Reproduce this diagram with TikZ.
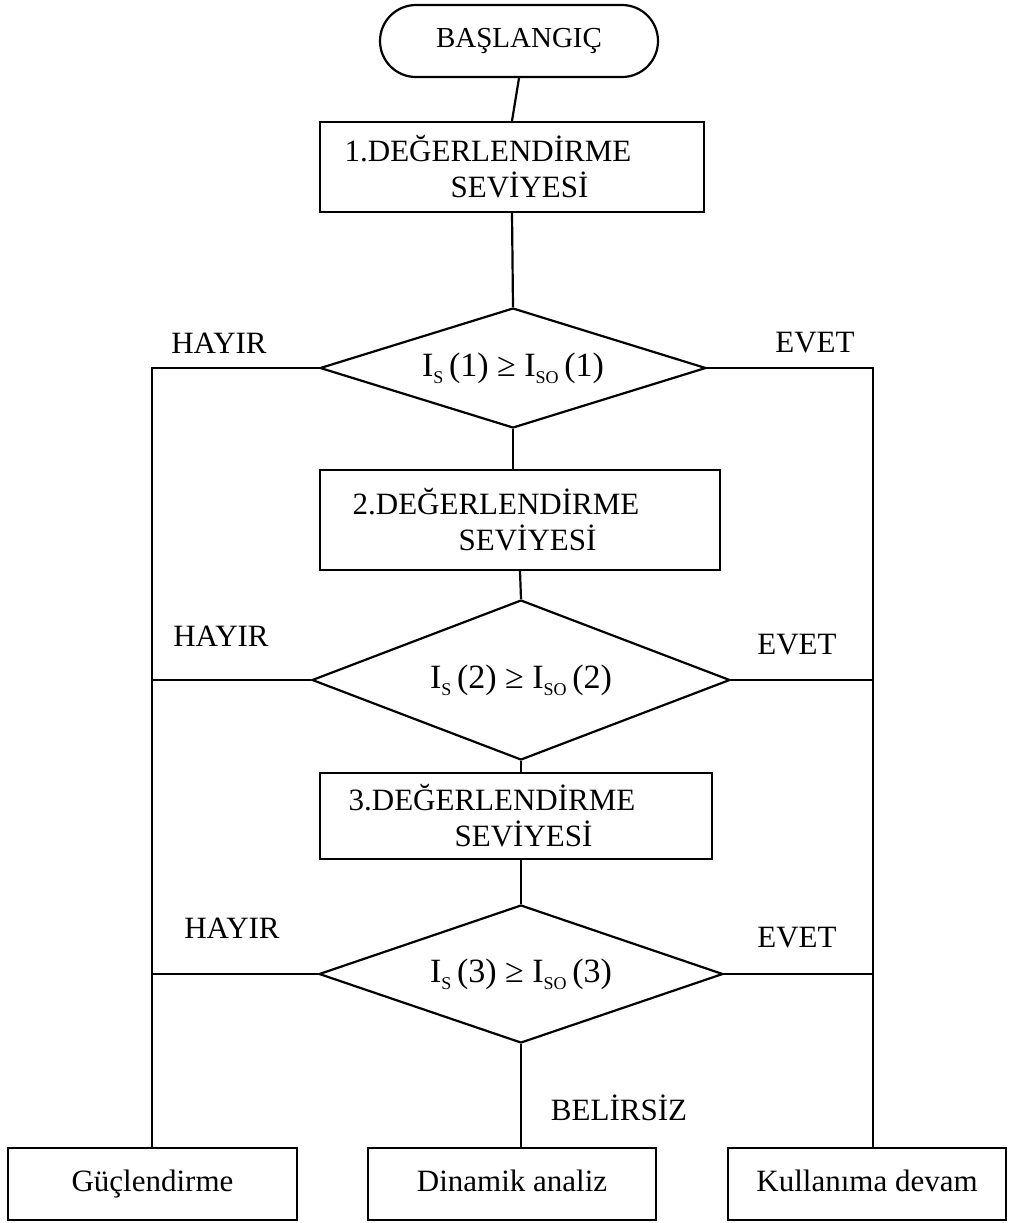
\documentclass[tikz,border=0pt]{standalone}
\usepackage{fontspec}
\setmainfont{Liberation Serif}
\usetikzlibrary{shapes.geometric}
\newcommand{\lsub}[1]{\raisebox{-0.45ex}{\fontsize{9}{9}\selectfont #1}}
\newcommand{\cond}[1]{I\lsub{S}\,(#1) ≥ I\lsub{SO}\,(#1)}
\newcommand{\lvltext}[1]{#1.DEĞERLENDİRME\rule{24pt}{0pt}\\\rule{53pt}{0pt}SEVİYESİ}
\begin{document}
\begin{tikzpicture}[x=0.5pt,y=-0.5pt,line width=1.1pt,
    every node/.style={font=\fontsize{15.5}{18}\selectfont},
    startbox/.style={draw,rounded corners=18pt,minimum width=139pt,minimum height=36pt,
        font=\fontsize{14.5}{17}\selectfont},
    levelbox/.style={draw,align=left,inner sep=0pt},
    testbox/.style={draw,diamond,inner sep=0pt,font=\fontsize{17}{20}\selectfont},
    endbox/.style={draw,minimum width=144pt,minimum height=36pt,text height=11pt,text depth=3.5pt}]
    \useasboundingbox (0,0) rectangle (1009,1223);
    % boxes and tests
    \node[startbox] (start) at (519,41) {BAŞLANGIÇ};
    \node[levelbox,minimum width=192pt,minimum height=45pt] (lev1) at (512,167) {\lvltext{1}};
    \node[testbox,aspect=3.2,minimum width=193pt,minimum height=60pt] (d1) at (513,368) {\cond{1}};
    \node[levelbox,minimum width=200pt,minimum height=50pt] (lev2) at (520,520) {\lvltext{2}};
    \node[testbox,aspect=2.6,minimum width=209pt,minimum height=80pt] (d2) at (521,680) {\cond{2}};
    \node[levelbox,minimum width=196pt,minimum height=43pt] (lev3) at (516,816) {\lvltext{3}};
    \node[testbox,aspect=2.9,minimum width=202pt,minimum height=69pt] (d3) at (521,974) {\cond{3}};
    \node[endbox,minimum width=144.5pt] (guc) at (152.5,1184) {Güçlendirme};
    \node[endbox] (dyn) at (512,1184) {Dinamik analiz};
    \node[endbox,minimum width=139pt] (kul) at (867,1184) {Kullanıma devam};
    \coordinate (lbus) at (152,1148);
    \coordinate (rbus) at (873,1148);
    % main line
    \draw (start.south) -- (lev1.north);
    \draw (lev1.south) -- (d1.north);
    \draw (d1.south) -- (d1.south |- lev2.north);
    \draw (lev2.south) -- (d2.north);
    \draw (d2.south) -- (d2.south |- lev3.north);
    \draw (d3.north) -- (d3.north |- lev3.south);
    \draw (d3.south) -- (d3.south |- dyn.north);
    % side lines
    \draw (d1.west) -| (lbus);
    \draw (d2.west) -- (d2.west -| lbus);
    \draw (d3.west) -- (d3.west -| lbus);
    \draw (d1.east) -| (rbus);
    \draw (d2.east) -- (d2.east -| rbus);
    \draw (d3.east) -- (d3.east -| rbus);
    % labels
    \node (no1) at (219,343) {HAYIR};
    \node (yes1) at (815,343) {EVET};
    \node (no2) at (221,636) {HAYIR};
    \node (yes2) at (797,645) {EVET};
    \node (no3) at (232,928) {HAYIR};
    \node (yes3) at (797,938) {EVET};
    \node (unk) at (619,1108) {BELİRSİZ};
\end{tikzpicture}
\end{document}
